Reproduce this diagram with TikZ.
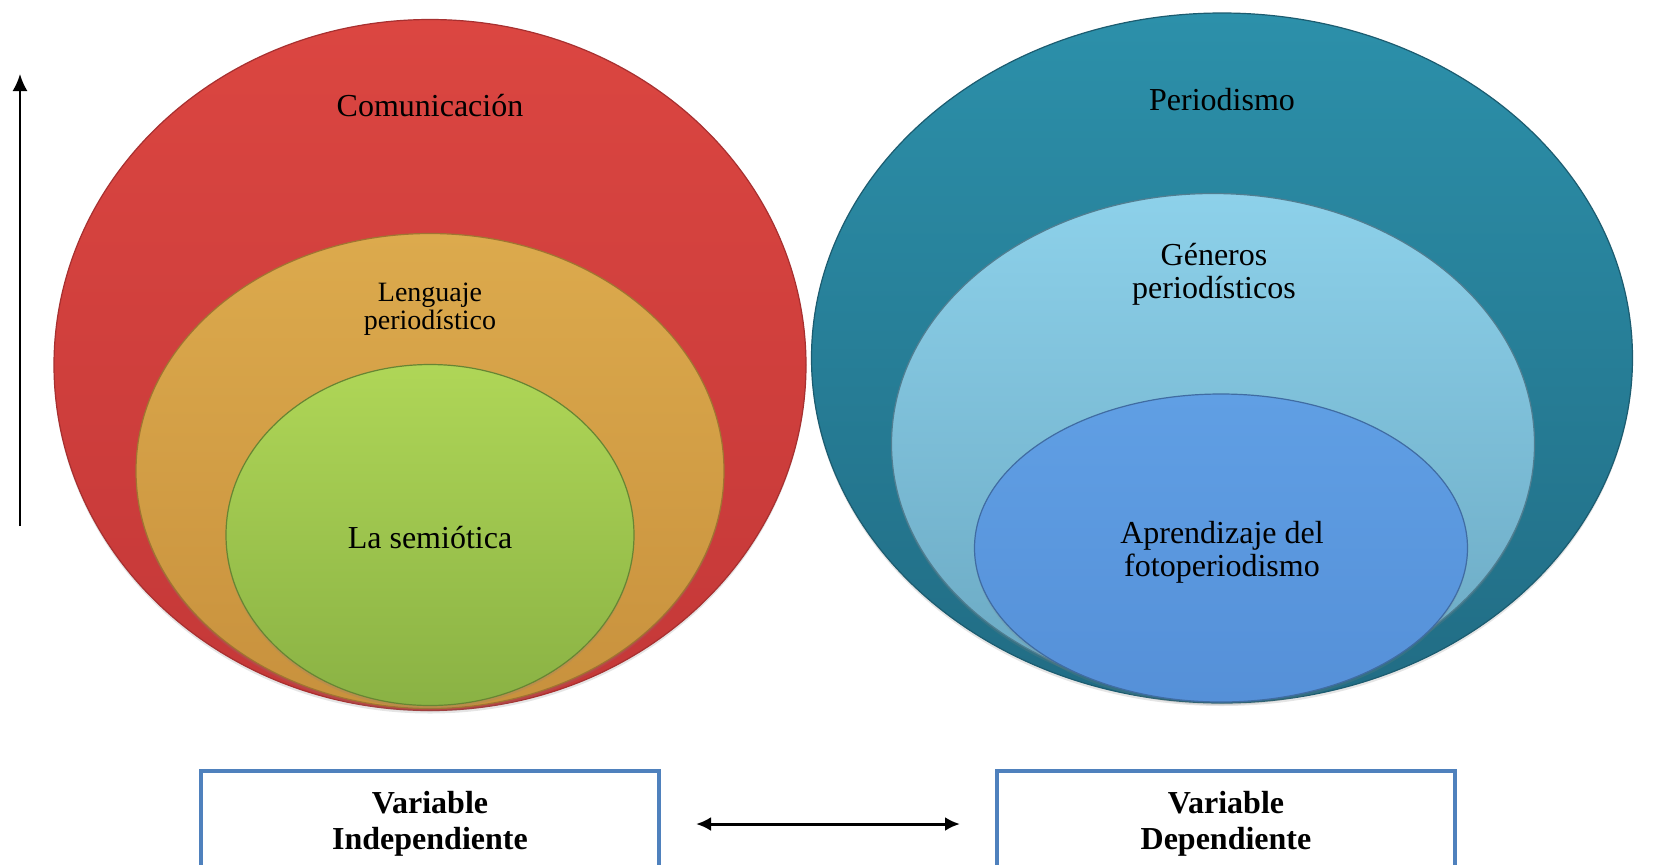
\documentclass[tikz,border=0pt]{standalone}
\usepackage{fontspec}
\setmainfont{Liberation Serif}
\usetikzlibrary{arrows.meta,shapes.geometric,shadows}

\definecolor{redTop}{HTML}{DB4641}
\definecolor{redBot}{HTML}{C43838}
\definecolor{orTop}{HTML}{DCAA4D}
\definecolor{orBot}{HTML}{C8913D}
\definecolor{grTop}{HTML}{AFD657}
\definecolor{grBot}{HTML}{8AB244}
\definecolor{tealTop}{HTML}{2C90AA}
\definecolor{tealBot}{HTML}{216C84}
\definecolor{lbTop}{HTML}{8DD1EA}
\definecolor{lbBot}{HTML}{6AA8C2}
\definecolor{blTop}{HTML}{609FE4}
\definecolor{blBot}{HTML}{5590D8}
\definecolor{boxBlue}{HTML}{4F81BD}

\tikzset{
  disc/.style n args={3}{ellipse, inner sep=0pt, top color=#1, bottom color=#2,
    draw=#3, line width=0.6pt,
    drop shadow={shadow xshift=0pt, shadow yshift=-1.5pt, opacity=0.2}},
  lbl/.style={font=\fontsize{16}{16.5}\selectfont, align=center, text=black, inner sep=0pt},
  lblsmall/.style={font=\fontsize{14}{14}\selectfont, align=center, text=black, inner sep=0pt},
  varbox/.style={draw=boxBlue, line width=2pt, fill=white, minimum width=229pt,
    minimum height=70pt, anchor=north, inner sep=0pt},
  vartext/.style={font=\bfseries\fontsize{16}{18}\selectfont, align=center, inner sep=0pt},
  arr/.style={line width=1pt, -{Latex[length=8.5pt, width=7.5pt]}},
  dblarr/.style={line width=1.5pt, {Latex[length=7.5pt, width=7pt]}-{Latex[length=7.5pt, width=7pt]}}
}

\begin{document}
\begin{tikzpicture}[x=0.5pt, y=-0.5pt]
  \clip (0,0) rectangle (1662,864);
  \fill[white] (0,0) rectangle (1662,864);

  % left set: communication
  \node[disc={redTop}{redBot}{redBot!85!black}, minimum width=376pt, minimum height=345.5pt] (com) at (430,365) {};
  \node[disc={orTop}{orBot}{orBot!80!black}, minimum width=294pt, minimum height=237.5pt] (len) at (430,471) {};
  \node[disc={grTop}{grBot}{grBot!75!black}, minimum width=204pt, minimum height=170.5pt] (sem) at (430,535) {};

  \node[lbl] (comT) at (430,106) {Comunicación};
  \node[lblsmall] (lenT) at (430,309) {Lenguaje\\periodístico};
  \node[lbl] (semT) at (430,538) {La semiótica};

  % right set: journalism
  \node[disc={tealTop}{tealBot}{tealBot!85!black}, minimum width=410.5pt, minimum height=345pt] (per) at (1222,358) {};
  \node[disc={lbTop}{lbBot}{lbBot!75!black}, minimum width=321.5pt, minimum height=250.5pt] (gen) at (1213,444) {};
  \node[disc={blTop}{blBot}{blBot!75!black}, minimum width=246.5pt, minimum height=154pt] (apr) at (1221,548) {};

  \node[lbl] (perT) at (1222,100) {Periodismo};
  \node[lbl] (genT) at (1214,274) {Géneros\\periodísticos};
  \node[lbl] (aprT) at (1222,552) {Aprendizaje del\\fotoperiodismo};

  % vertical arrow
  \coordinate (vbot) at (20,526);
  \coordinate (vtop) at (20,74);
  \draw[arr] (vbot) -- (vtop);

  % variable boxes
  \node[varbox] (vind) at (430,769) {};
  \node[varbox] (vdep) at (1226,769) {};
  \node[vartext] (vindT) at (430,824) {Variable\\Independiente};
  \node[vartext] (vdepT) at (1226,824) {Variable\\Dependiente};

  % relation between the variables
  \coordinate (rl) at (696,824);
  \coordinate (rr) at (960,824);
  \draw[dblarr] (rl) -- (rr);
\end{tikzpicture}
\end{document}
